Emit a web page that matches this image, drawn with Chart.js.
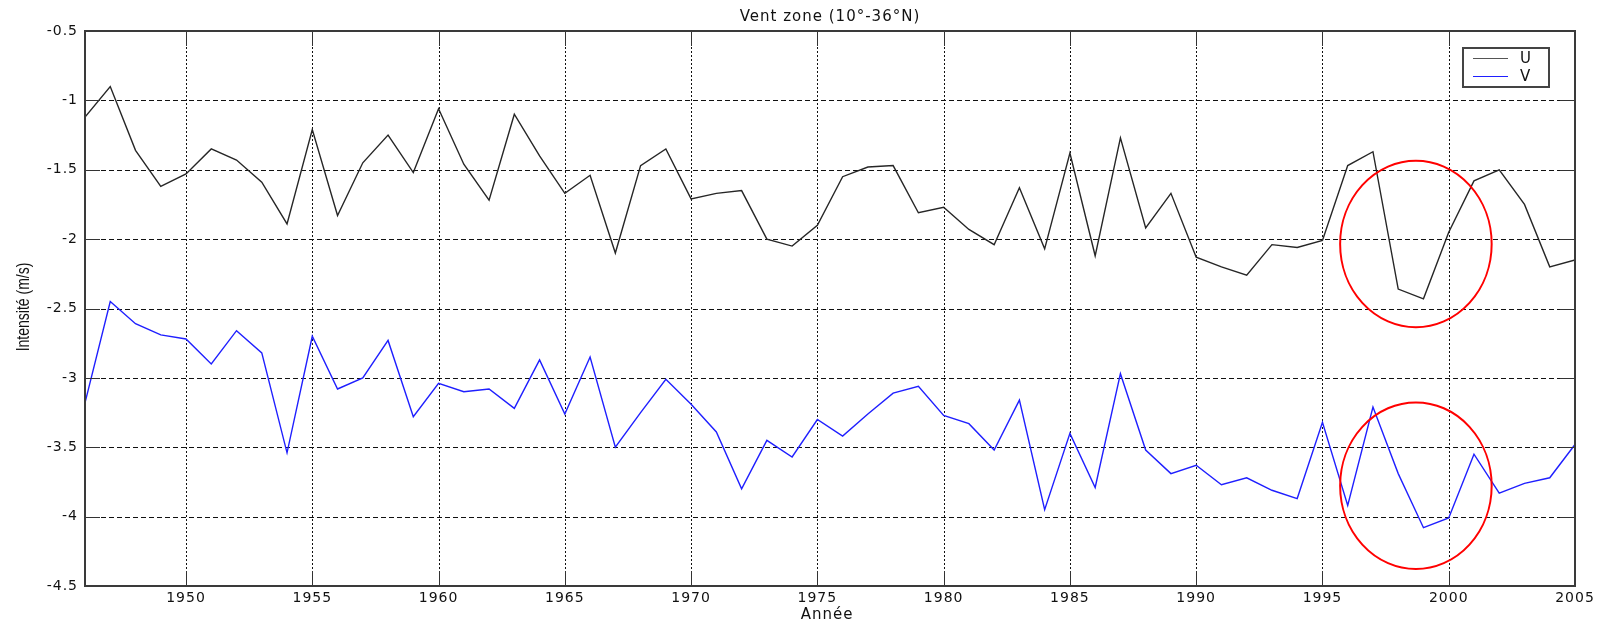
<!DOCTYPE html>
<html lang="fr">
<head>
<meta charset="UTF-8">
<title>Vent zone (10°-36°N)</title>
<script src="https://cdn.jsdelivr.net/npm/chart.js@4.4.1/dist/chart.umd.min.js"></script>
<style>
  html,body{margin:0;padding:0;background:#fff}
  canvas{display:block}
</style>
</head>
<body>
<canvas id="chart" width="1603" height="625"></canvas>
<script>
/****************  DATA  ****************/
const years=[
  1946,1947,1948,1949,1950,1951,1952,1953,1954,1955,
  1956,1957,1958,1959,1960,1961,1962,1963,1964,1965,
  1966,1967,1968,1969,1970,1971,1972,1973,1974,1975,
  1976,1977,1978,1979,1980,1981,1982,1983,1984,1985,
  1986,1987,1988,1989,1990,1991,1992,1993,1994,1995,
  1996,1997,1998,1999,2000,2001,2002,2003,2004,2005
];
// composante zonale U (m/s)
const uVals=[
  -1.12,-0.90,-1.36,-1.62,-1.53,-1.35,-1.43,-1.59,-1.89,-1.21,
  -1.83,-1.45,-1.25,-1.52,-1.06,-1.46,-1.72,-1.10,-1.40,-1.67,
  -1.54,-2.10,-1.47,-1.35,-1.71,-1.67,-1.65,-2.00,-2.05,-1.90,
  -1.55,-1.48,-1.47,-1.81,-1.77,-1.93,-2.04,-1.63,-2.07,-1.38,
  -2.12,-1.27,-1.92,-1.67,-2.13,-2.20,-2.26,-2.04,-2.06,-2.01,
  -1.47,-1.37,-2.36,-2.43,-1.95,-1.58,-1.50,-1.75,-2.20,-2.15
];
// composante méridienne V (m/s)
const vVals=[
  -3.18,-2.45,-2.61,-2.69,-2.72,-2.90,-2.66,-2.82,-3.54,-2.70,
  -3.08,-3.00,-2.73,-3.28,-3.04,-3.10,-3.08,-3.22,-2.87,-3.26,
  -2.85,-3.50,-3.25,-3.01,-3.19,-3.39,-3.80,-3.45,-3.57,-3.30,
  -3.42,-3.26,-3.11,-3.06,-3.27,-3.33,-3.52,-3.16,-3.95,-3.40,
  -3.79,-2.97,-3.52,-3.69,-3.63,-3.77,-3.72,-3.81,-3.87,-3.32,
  -3.92,-3.21,-3.69,-4.08,-4.01,-3.55,-3.83,-3.76,-3.72,-3.48
];
const xTicks=[1950,1955,1960,1965,1970,1975,1980,1985,1990,1995,2000,2005];
const yTicks=[-0.5,-1,-1.5,-2,-2.5,-3,-3.5,-4,-4.5];
// zones entourées en rouge (centre année / valeur, demi-axes)
const highlightYear=[1998.7,1998.7];
const highlightVal=[-2.035,-3.777];
const highlightRx=[3.0,3.0];
const highlightRy=[0.6,0.6];

/****************  DRAWING HELPERS  ****************/
const TICK_FONT="DejaVu Sans";

const matlabAxes={
  id:'matlabAxes',
  beforeDraw(chart){ chart.ctx.letterSpacing='1px'; },
  beforeDatasetsDraw(chart){
    const {ctx,chartArea:a,scales:{x,y}}=chart;
    ctx.save();
    ctx.strokeStyle='#111';ctx.lineWidth=1;
    // vertical dotted grid
    ctx.setLineDash([2,2]);
    xTicks.forEach(v=>{
      const px=Math.round(x.getPixelForValue(v))+0.5;
      ctx.beginPath();ctx.moveTo(px,a.top);ctx.lineTo(px,a.bottom);ctx.stroke();
    });
    // horizontal dashed grid
    ctx.setLineDash([5,3]);
    yTicks.forEach(v=>{
      const py=Math.round(y.getPixelForValue(v))+0.5;
      ctx.beginPath();ctx.moveTo(a.left,py);ctx.lineTo(a.right,py);ctx.stroke();
    });
    ctx.restore();
  },
  afterDatasetsDraw(chart){
    const {ctx,chartArea:a,scales:{x,y}}=chart;
    ctx.save();
    // inward tick marks
    ctx.strokeStyle='#333';ctx.lineWidth=1;ctx.setLineDash([]);
    const tl=15;
    xTicks.forEach(v=>{
      const px=Math.round(x.getPixelForValue(v))+0.5;
      ctx.beginPath();
      ctx.moveTo(px,a.bottom);ctx.lineTo(px,a.bottom-tl);
      ctx.moveTo(px,a.top);ctx.lineTo(px,a.top+tl);
      ctx.stroke();
    });
    yTicks.forEach(v=>{
      const py=Math.round(y.getPixelForValue(v))+0.5;
      ctx.beginPath();
      ctx.moveTo(a.left,py);ctx.lineTo(a.left+tl,py);
      ctx.moveTo(a.right,py);ctx.lineTo(a.right-tl,py);
      ctx.stroke();
    });
    // axes box
    ctx.strokeStyle='#3a3a3a';ctx.lineWidth=2;
    ctx.strokeRect(a.left,a.top,a.right-a.left,a.bottom-a.top);

    // red ellipses
    ctx.strokeStyle='#f00';ctx.lineWidth=2;
    highlightYear.forEach((yr,i)=>{
      const cx=x.getPixelForValue(yr),cy=y.getPixelForValue(highlightVal[i]);
      const rx=x.getPixelForValue(yr+highlightRx[i])-cx;
      const ry=cy-y.getPixelForValue(highlightVal[i]+highlightRy[i]);
      ctx.beginPath();ctx.ellipse(cx,cy,rx,ry,0,0,Math.PI*2);ctx.stroke();
    });

    // legend box, top right inside the axes
    const lw=86,lh=39,lx=a.right-26-lw,ly=a.top+17;
    ctx.fillStyle='#fff';ctx.fillRect(lx,ly,lw,lh);
    ctx.strokeStyle='#444';ctx.lineWidth=2;ctx.strokeRect(lx,ly,lw,lh);
    ctx.font='15px '+TICK_FONT;ctx.textAlign='left';ctx.textBaseline='middle';
    chart.data.datasets.forEach((ds,i)=>{
      const yy=Math.round(ly+10+i*17.5)+0.5;
      ctx.strokeStyle=i===0?'#555':ds.borderColor;ctx.lineWidth=1.2;
      ctx.beginPath();ctx.moveTo(lx+10,yy);ctx.lineTo(lx+45,yy);ctx.stroke();
      ctx.fillStyle='#111';ctx.fillText(ds.label,lx+57,yy+1);
    });

    // titles
    ctx.fillStyle='#111';ctx.textAlign='center';ctx.textBaseline='alphabetic';
    const cxA=(a.left+a.right)/2;
    ctx.font='15px '+TICK_FONT;
    ctx.fillText('Vent zone (10°-36°N)',cxA,21);
    ctx.fillText('Année',cxA-3,619);
    // y title, rotated and stretched across
    ctx.letterSpacing='0px';
    ctx.translate(29,307);ctx.rotate(-Math.PI/2);ctx.scale(1,1.3);
    ctx.font='14px "Liberation Sans", Arial, sans-serif';
    ctx.fillText('Intensité (m/s)',0,0);
    ctx.restore();
  }
};

/****************  CHART  ****************/
new Chart(document.getElementById('chart'),{
  type:'line',
  data:{datasets:[
    {label:'U',data:years.map((yr,i)=>({x:yr,y:uVals[i]})),borderColor:'#262626',borderWidth:1.4,pointRadius:0,tension:0},
    {label:'V',data:years.map((yr,i)=>({x:yr,y:vVals[i]})),borderColor:'#1f1fff',borderWidth:1.4,pointRadius:0,tension:0}
  ]},
  options:{
    responsive:false,animation:false,devicePixelRatio:1,
    layout:{padding:{left:0,top:31,right:28,bottom:0}},
    plugins:{legend:{display:false},title:{display:false},tooltip:{enabled:false}},
    scales:{
      x:{type:'linear',min:1946,max:2005,
         afterBuildTicks:s=>{s.ticks=xTicks.map(v=>({value:v}));},
         afterFit:s=>{s.height=39;},
         grid:{display:false,drawTicks:false},border:{display:false},
         ticks:{padding:4,color:'#111',font:{family:TICK_FONT,size:14},callback:v=>String(v),maxRotation:0,autoSkip:false}},
      y:{type:'linear',min:-4.5,max:-0.5,
         afterBuildTicks:s=>{s.ticks=yTicks.map(v=>({value:v}));},
         afterFit:s=>{s.width=85;},
         grid:{display:false,drawTicks:false},border:{display:false},
         ticks:{padding:7,color:'#111',font:{family:TICK_FONT,size:14},callback:v=>String(v),autoSkip:false}}
    }
  },
  plugins:[matlabAxes]
});
</script>
</body>
</html>
